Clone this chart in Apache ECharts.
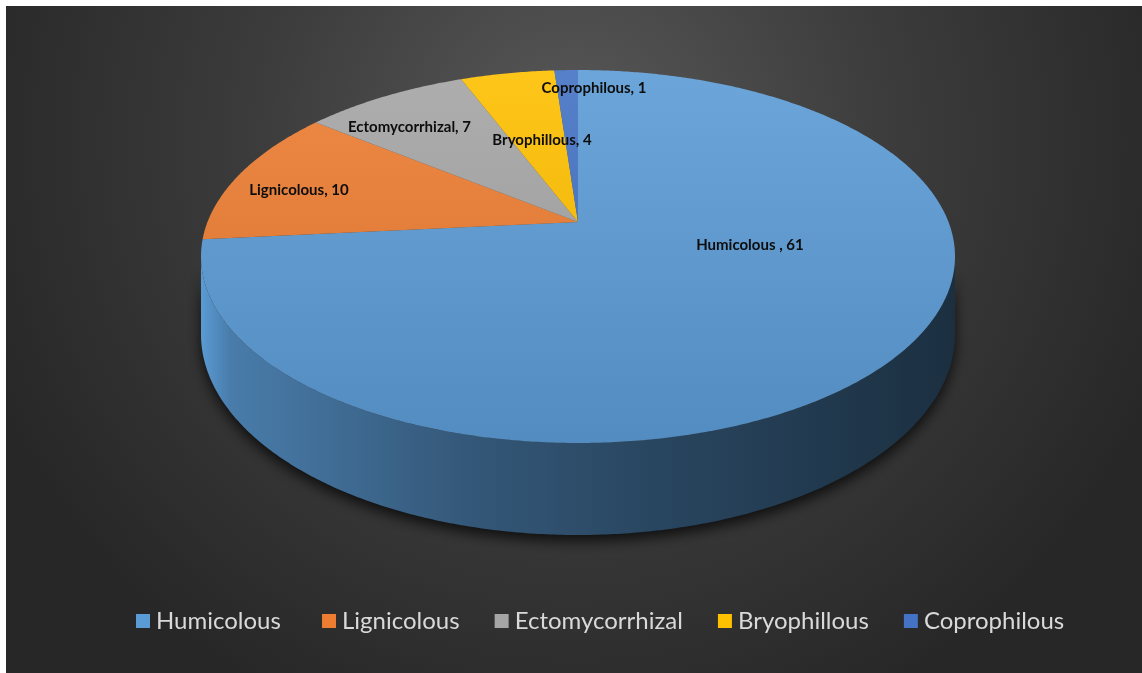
<!DOCTYPE html>
<html>
<head>
<meta charset="utf-8">
<script src="https://cdn.jsdelivr.net/npm/echarts@6/dist/echarts.min.js"></script>
<style>
html, body { margin: 0; background: #fff; overflow: hidden; }
#chart { position: absolute; left: 6px; top: 6px; right: 0; bottom: 0; }
</style>
</head>
<body>
<div id="chart"></div>
<script>
// data
const categories = ['Humicolous ', 'Lignicolous', 'Ectomycorrhizal', 'Bryophillous', 'Coprophilous']
const values = [61, 10, 7, 4, 1]
const colors = ['#5b9bd5', '#ed7d31', '#a5a5a5', '#ffc000', '#4472c4']

// where each label sits: shift from mid angle (deg), radius fraction
const labelSpot = [[-27, 0.47], [-3, 0.8], [-4, 0.77], [1, 0.51], [5.5, 0.86]]

// 3d pie geometry (px inside the chart div)
const cx = 572, cy = 216
const rx = 370.5, ry = 180.1
const persp = 0.185
const depth = 75

const total = values.reduce((s, v) => s + v, 0)
const starts = []
let acc = 0
values.forEach(v => { starts.push(acc); acc += v })

function mix(hex, target, t) {
  const c = echarts.color.parse(hex)
  const o = echarts.color.parse(target)
  return 'rgb(' + [0, 1, 2].map(k => Math.round(c[k] + (o[k] - c[k]) * t)).join(',') + ')'
}

// alpha: clockwise from 12 o'clock, f: radius fraction
function rim(alpha, f) {
  const X = f * Math.sin(alpha)
  const Z = -f * Math.cos(alpha)
  const k = 1 / (1 - persp * Z)
  return [cx + rx * X * k, cy + ry * Z * k, k]
}

function arcPoints(a1, a2, bottom) {
  const pts = []
  const n = Math.max(2, Math.ceil(Math.abs(a2 - a1) / (Math.PI / 360)))
  for (let j = 0; j <= n; j++) {
    const a = a1 + (a2 - a1) * j / n
    const p = rim(a, 1)
    pts.push([p[0], bottom ? p[1] + depth * p[2] : p[1]])
  }
  return pts
}

const sideL = Math.PI - Math.acos(persp)
const sideR = Math.PI + Math.acos(persp)

function makeRender(i) {
  return function (params, api) {
    const a1 = starts[i] / total * Math.PI * 2
    const a2 = (starts[i] + api.value(0)) / total * Math.PI * 2
    const children = []

    // visible outer wall
    const s1 = Math.max(a1, sideL), s2 = Math.min(a2, sideR)
    if (s2 > s1) {
      const pts = arcPoints(s1, s2, false).concat(arcPoints(s2, s1, true))
      children.push({
        type: 'polygon',
        z2: 1,
        shape: { points: pts },
        style: {
          fill: new echarts.graphic.LinearGradient(cx - rx * 1.02, 0, cx + rx * 1.02, 0, [
            { offset: 0, color: mix(colors[i], '#ffffff', 0.0) },
            { offset: 0.04, color: mix(colors[i], '#000000', 0.2) },
            { offset: 0.35, color: mix(colors[i], '#000000', 0.43) },
            { offset: 0.6, color: mix(colors[i], '#000000', 0.55) },
            { offset: 1, color: mix(colors[i], '#000000', 0.7) }
          ], true),
          shadowBlur: 14,
          shadowOffsetY: 6,
          shadowColor: 'rgba(0,0,0,0.75)'
        }
      })
    }

    // top face
    const top = [[cx, cy]].concat(arcPoints(a1, a2, false))
    children.push({
      type: 'polygon',
      z2: 10,
      shape: { points: top },
      style: {
        fill: new echarts.graphic.LinearGradient(0, cy - ry / (1 + persp), 0, cy + ry / (1 - persp), [
          { offset: 0, color: mix(colors[i], '#ffffff', 0.1) },
          { offset: 1, color: mix(colors[i], '#000000', 0.1) }
        ], true)
      }
    })

    // data label
    const mid = (a1 + a2) / 2 + labelSpot[i][0] * Math.PI / 180
    const lp = rim(mid, labelSpot[i][1])
    children.push({
      type: 'text',
      z2: 20,
      style: {
        x: lp[0], y: lp[1],
        text: categories[i] + ', ' + api.value(0),
        fill: '#0d0d0d',
        font: 'bold 15px Lato',
        align: 'center',
        verticalAlign: 'middle'
      }
    })
    return { type: 'group', children: children }
  }
}

const chart = echarts.init(document.getElementById('chart'))
chart.setOption({
  backgroundColor: new echarts.graphic.RadialGradient(0.5, 0.2, 0.95, [
    { offset: 0, color: '#585858' },
    { offset: 0.5, color: '#3c3c3c' },
    { offset: 1, color: '#272727' }
  ]),
  animation: false,
  legend: {
    left: 125,
    top: 598,
    icon: 'rect',
    itemWidth: 14,
    itemHeight: 14,
    itemGap: 35,
    selectedMode: false,
    textStyle: { color: '#d9d9d9', fontSize: 24, fontFamily: 'Lato', padding: [0, 0, 0, 1] },
    data: categories
  },
  series: categories.map((name, i) => ({
    type: 'custom',
    name: name,
    coordinateSystem: 'none',
    itemStyle: { color: colors[i] },
    renderItem: makeRender(i),
    data: [[values[i]]]
  }))
})
</script>
</body>
</html>
